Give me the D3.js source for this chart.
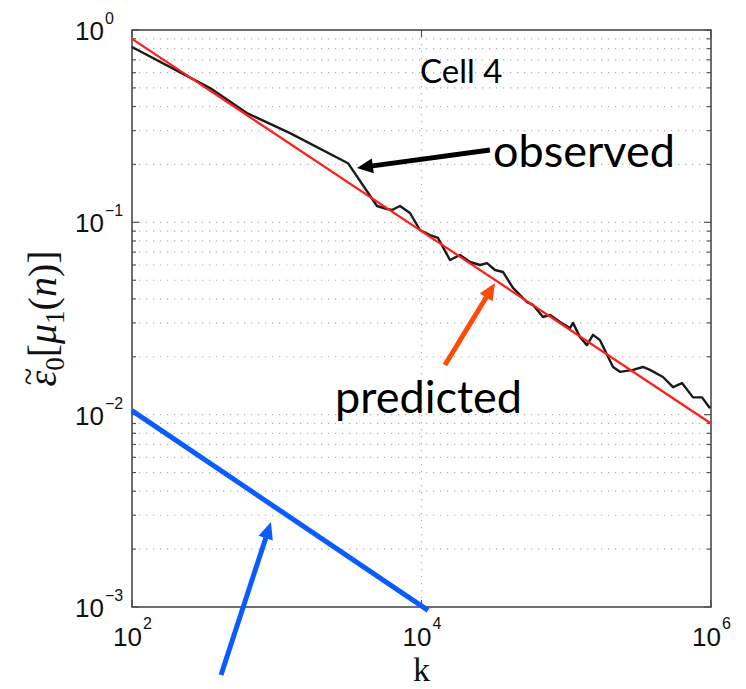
<!DOCTYPE html>
<html lang="en">
<head>
<meta charset="utf-8">
<title>Cell 4</title>
<script src="https://d3js.org/d3.v7.min.js"></script>
<style>
  body { margin: 0; padding: 0; background: #fff; }
  .tick-label { font-family: 'Liberation Sans', Arial, sans-serif; fill: #111; }
  .note { font-family: Lato, 'Open Sans', sans-serif; fill: #000; }
  .math { font-family: 'Liberation Serif', 'DejaVu Serif', serif; fill: #111; }
</style>
</head>
<body>
<div id="chart"></div>
<script>
// observed error curve
var kObserved = [100, 346, 622, 1235, 3105, 4927, 5777, 6255, 7103, 8328, 9764, 11449,
  13002, 15733, 18450, 21630, 25363, 28350, 32190, 36560, 42870, 53560, 58930, 69090,
  77230, 90530, 106140, 111330, 124450, 139080, 153010, 171100, 210400, 235100, 289100,
  339000, 379000, 466000, 546600, 630500, 750900, 866600, 984200];
var errObserved = [0.816, 0.499, 0.370, 0.291, 0.203, 0.1216, 0.1173, 0.1159, 0.1216, 0.1118,
  0.0912, 0.0859, 0.0829, 0.0637, 0.0676, 0.0622, 0.0600, 0.0614, 0.0565, 0.0552, 0.0456,
  0.0385, 0.0372, 0.0322, 0.0330, 0.0303, 0.0282, 0.0300, 0.0253, 0.0230, 0.0260, 0.0244,
  0.0177, 0.0167, 0.0171, 0.0177, 0.0171, 0.0157, 0.0139, 0.0146, 0.0123, 0.0123, 0.0108];

// predicted power law (straight line on log-log)
var kPredicted = [1e2, 1e6];
var errPredicted = [0.9, 0.009];

// blue reference line
var kBlue = [1e2, 11100];
var errBlue = [0.0105, 0.00096];

// axis ticks
var xTickValues = [1e2, 1e4, 1e6];
var xTickExps = ["2", "4", "6"];
var yTickValues = [1e-3, 1e-2, 1e-1, 1];
var yTickExps = ["\u22123", "\u22122", "\u22121", "0"];

// annotations, in data coordinates: [k, value]
var arrowObserved = [[29700, 0.2377], [3581, 0.1916]];
var arrowPredicted = [[14520, 0.01812], [32200, 0.0484]];
var arrowBlue = [[412, 0.000443], [912, 0.002767]];

var margin = {top: 30, right: 35, bottom: 82, left: 132},
    width = 746 - margin.left - margin.right,
    height = 689 - margin.top - margin.bottom;

var svg = d3.select("#chart")
  .append("svg")
    .attr("width", 746)
    .attr("height", 689)
  .append("g")
    .attr("transform", "translate(" + margin.left + "," + margin.top + ")");

var x = d3.scaleLog().domain([1e2, 1e6]).range([0, width]);
var y = d3.scaleLog().domain([1e-3, 1]).range([height, 0]);

// dotted grid
var yMinor = y.ticks().filter(function(d) { return d > 1e-3 * 1.0001 && d < 0.9999; });
svg.append("g").selectAll("line")
  .data(yMinor)
  .enter().append("line")
    .attr("x1", 0).attr("x2", width)
    .attr("y1", function(d) { return y(d); })
    .attr("y2", function(d) { return y(d); })
    .attr("stroke", "#b0b0b0")
    .attr("stroke-width", 1.2)
    .attr("stroke-dasharray", "1.2,5.8");

svg.append("g").selectAll("line")
  .data(xTickValues.slice(1, -1))
  .enter().append("line")
    .attr("x1", function(d) { return x(d); })
    .attr("x2", function(d) { return x(d); })
    .attr("y1", 0).attr("y2", height)
    .attr("stroke", "#b0b0b0")
    .attr("stroke-width", 1.2)
    .attr("stroke-dasharray", "1.2,5.8");

// tick marks (inside, on all sides)
var isMajor = function(d) { return yTickValues.some(function(v) { return Math.abs(v - d) / v < 1e-6; }); };
var yAll = y.ticks();
var tk = svg.append("g").attr("stroke", "#555").attr("stroke-width", 1.2);
yAll.forEach(function(d) {
  var len = isMajor(d) ? 7 : 4;
  tk.append("line").attr("x1", 0).attr("x2", len).attr("y1", y(d)).attr("y2", y(d));
  tk.append("line").attr("x1", width).attr("x2", width - len).attr("y1", y(d)).attr("y2", y(d));
});
xTickValues.forEach(function(d) {
  tk.append("line").attr("x1", x(d)).attr("x2", x(d)).attr("y1", height).attr("y2", height - 7);
  tk.append("line").attr("x1", x(d)).attr("x2", x(d)).attr("y1", 0).attr("y2", 7);
});

// frame
svg.append("rect")
  .attr("width", width).attr("height", height)
  .attr("fill", "none")
  .attr("stroke", "#4a4a4a")
  .attr("stroke-width", 1.6);

// tick labels
yTickValues.forEach(function(d, i) {
  svg.append("text").attr("class", "tick-label")
    .attr("x", -28).attr("y", y(d) + 10)
    .attr("text-anchor", "end")
    .attr("font-size", 26)
    .text("10");
  svg.append("text").attr("class", "tick-label")
    .attr("x", -27).attr("y", y(d) - 6)
    .attr("font-size", 16)
    .text(yTickExps[i]);
});
xTickValues.forEach(function(d, i) {
  svg.append("text").attr("class", "tick-label")
    .attr("x", x(d) + 10).attr("y", height + 39)
    .attr("text-anchor", "end")
    .attr("font-size", 26)
    .text("10");
  svg.append("text").attr("class", "tick-label")
    .attr("x", x(d) + 11).attr("y", height + 22)
    .attr("font-size", 16)
    .text(xTickExps[i]);
});

// axis labels
svg.append("text").attr("class", "math")
  .attr("x", x(1e4)).attr("y", height + 74)
  .attr("text-anchor", "middle")
  .attr("font-size", 34)
  .text("k");

var ylg = svg.append("g")
  .attr("transform", "translate(" + (-76) + "," + (height / 2) + ") rotate(-90)");
var yl = ylg.append("text").attr("class", "math")
  .attr("text-anchor", "middle")
  .attr("font-size", 40);
yl.append("tspan").attr("font-style", "italic").text("\u03b5");
yl.append("tspan").attr("font-size", 27).attr("dy", 8).text("0");
yl.append("tspan").attr("dy", -8).text("[");
yl.append("tspan").attr("font-style", "italic").text("\u03bc");
yl.append("tspan").attr("font-size", 27).attr("dy", 8).text("1");
yl.append("tspan").attr("dy", -8).text("(");
yl.append("tspan").attr("font-style", "italic").text("n");
yl.append("tspan").text(")]");
// tilde over epsilon
var epsBox = yl.node().getExtentOfChar(0);
ylg.append("text").attr("class", "math")
  .attr("x", epsBox.x + epsBox.width / 2 + 2)
  .attr("y", epsBox.y + epsBox.height * 0.42)
  .attr("text-anchor", "middle")
  .attr("font-size", 32)
  .text("~");

// series
var line = d3.line()
  .x(function(d) { return x(d[0]); })
  .y(function(d) { return y(d[1]); });

svg.append("path")
  .datum(kObserved.map(function(k, i) { return [k, errObserved[i]]; }))
  .attr("d", line)
  .attr("fill", "none")
  .attr("stroke", "#1a1a1a")
  .attr("stroke-width", 2.4)
  .attr("stroke-linejoin", "round");

svg.append("path")
  .datum(kPredicted.map(function(k, i) { return [k, errPredicted[i]]; }))
  .attr("d", line)
  .attr("fill", "none")
  .attr("stroke", "#ff1e1e")
  .attr("stroke-width", 2.2);

svg.append("path")
  .datum(kBlue.map(function(k, i) { return [k, errBlue[i]]; }))
  .attr("d", line)
  .attr("fill", "none")
  .attr("stroke", "#0a5cff")
  .attr("stroke-width", 5);

// arrows
function drawArrow(pts, color, w, headLen, headW) {
  var x0 = x(pts[0][0]), y0 = y(pts[0][1]),
      x1 = x(pts[1][0]), y1 = y(pts[1][1]);
  var dx = x1 - x0, dy = y1 - y0, L = Math.sqrt(dx * dx + dy * dy);
  var ux = dx / L, uy = dy / L;
  var bx = x1 - ux * headLen, by = y1 - uy * headLen;
  svg.append("line")
    .attr("x1", x0).attr("y1", y0)
    .attr("x2", bx + ux * 2).attr("y2", by + uy * 2)
    .attr("stroke", color).attr("stroke-width", w);
  svg.append("path")
    .attr("d", "M" + x1 + "," + y1 +
      "L" + (bx - uy * headW / 2) + "," + (by + ux * headW / 2) +
      "L" + (bx + uy * headW / 2) + "," + (by - ux * headW / 2) + "Z")
    .attr("fill", color);
}
drawArrow(arrowObserved, "#000", 5, 16, 15);
drawArrow(arrowPredicted, "#ff4a0a", 5, 17, 15);
drawArrow(arrowBlue, "#0a5cff", 5, 17, 15);

// text notes
svg.append("text").attr("class", "note")
  .attr("x", x(9770)).attr("y", y(0.53))
  .attr("font-size", 33)
  .text("Cell 4");
svg.append("text").attr("class", "note")
  .attr("x", x(31200)).attr("y", y(0.194))
  .attr("font-size", 45)
  .text("observed");
svg.append("text").attr("class", "note")
  .attr("x", x(2526)).attr("y", y(0.0102))
  .attr("font-size", 45)
  .text("predicted");
</script>
</body>
</html>
